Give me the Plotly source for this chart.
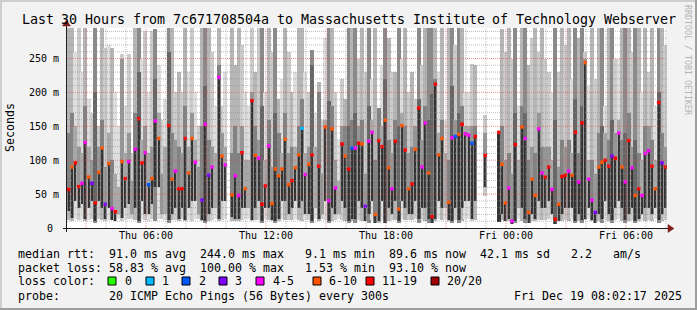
import re
import plotly.graph_objects as go
import pandas as pd

N = None
# ---- data: 10-minute slots starting Thu 2025-12-18 02:03 (values in ms) ----
median_ms = [57, 90, 96, 61, 66, 126, 75, 66, 37, 82,
             118, 35, 95, 29, 24, N, 98, 73, 98, N,
             116, 161, 96, 111, 64, 73, 158, 132, N, N,
             151, 72, 84, 58, 58, 132, 81, 132, 97, N,
             41, 153, 78, 90, N, 222, 106, 93, N, 49,
             77, 48, 111, 58, N, 188, 107, 103, 35, 62,
             121, 36, 87, 77, 87, 131, 64, 70, 89, 108,
             147, 79, 94, 108, N, 91, N, 149, 40, 146,
             59, N, 124, 106, 87, 118, 118, 125, 124, 32,
             128, 141, 20, 129, 120, 159, 89, 58, 128, 28,
             151, 115, 58, 65, 116, 177, 90, 155, 81, 17,
             212, 108, 132, N, 38, 133, 135, 138, 153, 139,
             137, 125, 135, N, N, 107, N, N, N, 141,
             94, 37, 59, 10, 123, N, 149, 132, 23, 72,
             48, 146, 81, 75, 90, 57, 13, 35, 76, 78,
             84, 78, 141, 68, 155, 244, 72, 41, 23, 90,
             97, 100, 91, 106, 103, 140, 90, 68, 129, 89,
             48, 58, 48, 110, 114, 91, 58, 185, 96, 90]

loss_bucket = [6, 5, 6, 6, 4, 4, 5, 3, 6, 5,
               5, 3, 5, 4, 6, 7, 5, 6, 4, 7,
               4, 6, 6, 4, 2, 5, 4, 5, 7, 7,
               6, 5, 4, 6, 6, 6, 5, 5, 4, 7,
               3, 4, 3, 4, 7, 4, 5, 4, 7, 5,
               4, 4, 6, 5, 7, 6, 5, 4, 6, 6,
               4, 5, 5, 5, 5, 5, 5, 6, 5, 5,
               1, 4, 5, 6, 7, 6, 7, 5, 4, 5,
               4, 7, 6, 5, 6, 2, 4, 6, 5, 3,
               4, 4, 5, 6, 6, 5, 5, 4, 6, 5,
               5, 6, 5, 6, 5, 6, 4, 4, 5, 6,
               6, 5, 5, 7, 5, 4, 2, 5, 6, 4,
               4, 2, 6, 7, 7, 6, 7, 7, 7, 6,
               5, 5, 4, 4, 6, 7, 5, 4, 5, 5,
               5, 4, 4, 6, 6, 4, 6, 5, 6, 6,
               4, 5, 6, 4, 6, 5, 4, 4, 3, 5,
               5, 6, 6, 3, 6, 4, 5, 4, 6, 4,
               5, 6, 4, 4, 4, 6, 5, 6, 3, 6]

smoke_top = [300, 300, 260, 300, 230, 300, 190, 170, 300, 150,
             300, 266, 270, 266, 200, 150, 257, 180, 257, 110,
             300, 300, 250, 290, 200, 290, 294, 240, 160, 190,
             300, 300, 200, 230, 200, 300, 230, 300, 200, 150,
             300, 300, 300, 260, 180, 300, 180, 230, N, 300,
             240, 300, 270, 200, 180, 300, 230, 300, 300, 200,
             300, 260, 300, 190, 220, 300, 260, 200, 230, 300,
             300, 230, 200, 262, 170, 215, 160, 280, 300, 300,
             200, 130, 220, 190, 300, 300, 300, 250, 300, 230,
             300, 220, 300, 177, 240, 300, 280, 230, 230, 300,
             250, 300, 200, 230, 190, 300, 240, 300, 300, 300,
             300, 230, 300, 160, 300, 300, 270, 300, 300, 200,
             200, 242, 240, N, N, 167, N, N, N, 141,
             294, 260, 300, 250, 300, 180, 300, 300, 240, 280,
             300, 260, 300, 250, 230, 200, 300, 230, 300, 270,
             300, 220, 300, 280, 300, 260, 210, 300, 220, 300,
             300, 180, 300, 300, 250, 250, 300, 300, 300, 260,
             300, 300, 200, 300, 230, 300, 180, 300, 300, 270]

smoke_bot = [12, 10, 14, 12, 14, 10, 12, 14, 8, 14,
             12, 10, 12, 12, 10, 14, 10, 12, 14, 14,
             12, 8, 14, 12, 10, 14, 10, 14, 14, 12,
             8, 12, 12, 10, 14, 10, 12, 10, 14, 14,
             10, 8, 10, 12, 14, 10, 12, 14, N, 10,
             10, 10, 12, 14, 14, 10, 12, 12, 8, 14,
             12, 10, 8, 10, 14, 12, 12, 12, 14, 12,
             10, 12, 12, 8, 14, 10, 14, 12, 8, 10,
             12, 14, 12, 10, 8, 10, 8, 12, 10, 10,
             8, 12, 8, 8, 12, 8, 10, 12, 12, 8,
             14, 12, 12, 12, 14, 8, 12, 10, 8, 8,
             10, 14, 12, 14, 10, 8, 12, 8, 10, 14,
             14, 10, 12, N, N, 47, N, N, N, 9,
             12, 10, 10, 6, 8, 14, 10, 8, 8, 10,
             10, 12, 12, 12, 14, 12, 6, 10, 10, 12,
             10, 14, 8, 10, 8, 12, 14, 10, 8, 10,
             8, 12, 10, 8, 12, 14, 10, 8, 10, 12,
             8, 10, 12, 10, 12, 10, 14, 8, 10, 12]

smoke_shade = [2, 2, 0, 1, 0, 2, 0, 1, 3, 1,
               2, 1, 0, 2, 0, 0, 1, 0, 1, 1,
               2, 3, 0, 1, 0, 1, 3, 0, 1, 0,
               3, 2, 1, 2, 1, 2, 0, 1, 0, 1,
               2, 3, 2, 1, 0, 2, 1, 0, 0, 2,
               2, 2, 1, 0, 0, 1, 2, 1, 3, 0,
               2, 1, 3, 2, 0, 2, 1, 2, 0, 2,
               2, 0, 1, 3, 0, 2, 1, 0, 3, 2,
               1, 0, 1, 2, 3, 2, 3, 1, 2, 1,
               3, 0, 2, 2, 0, 3, 2, 1, 2, 3,
               0, 2, 1, 2, 1, 3, 1, 2, 3, 3,
               2, 0, 2, 0, 2, 3, 1, 3, 2, 0,
               0, 1, 2, 0, 0, 1, 0, 0, 0, 4,
               2, 1, 2, 1, 3, 0, 2, 3, 2, 1,
               2, 1, 2, 1, 1, 0, 3, 1, 2, 1,
               2, 0, 3, 2, 3, 1, 0, 2, 1, 2,
               3, 0, 2, 3, 1, 0, 2, 3, 2, 1,
               3, 2, 0, 2, 1, 2, 0, 3, 2, 1]

inner_top = [140, 170, 150, 120, 110, 180, 120, 100, 200, 120,
             160, 90, 140, 100, 80, 60, 250, 110, 140, 70,
             170, 230, 130, 150, 110, 120, 220, 170, 80, 120,
             260, 140, 130, 120, 110, 180, 120, 170, 130, 90,
             150, 210, 130, 120, 110, 240, 140, 120, N, 110,
             150, 110, 150, 100, 100, 200, 150, 130, 180, 100,
             160, 90, 170, 140, 110, 170, 110, 120, 120, 150,
             190, 110, 120, 240, 120, 200, 80, 160, 188, 180,
             100, 70, 150, 150, 150, 160, 170, 150, 160, 80,
             180, 160, 100, 177, 150, 220, 130, 110, 160, 150,
             170, 150, 110, 120, 150, 190, 130, 180, 160, 198,
             220, 140, 160, 110, 100, 210, 160, 170, 180, 150,
             150, 150, 150, N, N, 140, N, N, N, 141,
             150, 100, 110, 80, 170, 100, 180, 170, 100, 120,
             110, 170, 120, 120, 120, 100, 160, 90, 130, 120,
             130, 110, 190, 110, 180, 250, 100, 100, 80, 140,
             150, 140, 130, 160, 140, 160, 130, 140, 170, 120,
             130, 110, 100, 150, 150, 130, 100, 200, 140, 120]

core_low = [25, 15, 40, 30, 35, 14, 30, 40, 10, 40,
            30, 14, 30, 12, 10, 20, 15, 30, 35, 20,
            30, 10, 40, 20, 20, 35, 60, 60, 20, 20,
            12, 20, 30, 14, 30, 12, 30, 40, 40, 20,
            12, 10, 20, 30, 30, 14, 40, 40, N, 16,
            14, 14, 30, 30, 30, 12, 30, 40, 10, 30,
            30, 12, 10, 14, 40, 40, 20, 30, 40, 30,
            40, 20, 20, 10, 30, 14, 20, 40, 10, 30,
            20, 20, 40, 30, 10, 14, 14, 40, 30, 10,
            20, 40, 8, 10, 40, 8, 30, 20, 40, 10,
            40, 30, 20, 20, 40, 14, 30, 30, 14, 8,
            14, 40, 30, 30, 12, 10, 30, 12, 30, 40,
            40, 14, 40, N, N, 60, N, N, N, 9,
            20, 10, 14, 6, 10, 30, 30, 14, 8, 20,
            14, 40, 30, 30, 40, 20, 6, 10, 20, 30,
            30, 30, 10, 20, 12, 14, 30, 12, 8, 20,
            14, 40, 20, 12, 30, 40, 30, 12, 20, 30,
            10, 14, 20, 30, 30, 20, 30, 12, 20, 30]

y_tick_vals = [0, 50, 100, 150, 200, 250]
y_tick_text = ["0\u00a0", "50 m", "100 m", "150 m", "200 m", "250 m"]
loss_labels = ["0", "1", "2", "3", "4-5", "6-10", "11-19", "20/20"]
loss_colors = ["#26ff00", "#00b8ff", "#0059ff", "#7e00ff", "#ff00ff", "#ff5500", "#ff0000", "#a10000"]

title_text = "Last 30 Hours from 7c671708504a to Massachusetts Institute of Technology Webserver"
legend_rtt = "median rtt:  91.0 ms avg  244.0 ms max   9.1 ms min  89.6 ms now  42.1 ms sd   2.2   am/s"
legend_loss = "packet loss: 58.83 % avg  100.00 % max   1.53 % min  93.10 % now"
legend_probe = "probe:       20 ICMP Echo Pings (56 Bytes) every 300s"
stamp = "Fri Dec 19 08:02:17 2025"

# ---- geometry helpers ----
W, H = 697, 310
PL, PR, PT, PB = 67, 667, 28, 228


def px(x):
    return (x - PL) / (PR - PL)


def py(y):
    return (PB - y) / (PB - PT)


start = pd.Timestamp("2025-12-18 02:03:00")
end = start + pd.Timedelta(hours=30)
step = pd.Timedelta(minutes=10)
times = [start + step * k + step / 2 for k in range(len(median_ms))]

outer_cols = ["#dedede", "#cbcbcb", "#b6b6b6", "#8a8a8a", "#3a3a3a"]
inner_cols = ["#a8a8a8", "#969696", "#828282", "#666666", "#333333"]

ob, oh, oc, ib, ih, ic, cb, ch = [], [], [], [], [], [], [], []
for k in range(len(times)):
    t, b, s = smoke_top[k], smoke_bot[k], smoke_shade[k]
    if t is None:
        ob.append(None); oh.append(None); oc.append("#ffffff")
        ib.append(None); ih.append(None); ic.append("#ffffff")
    else:
        ob.append(b); oh.append(t - b); oc.append(outer_cols[s])
        ib.append(core_low[k]); ih.append(inner_top[k] - core_low[k]); ic.append(inner_cols[s])
    m = median_ms[k]
    if m is None or core_low[k] is None:
        cb.append(None); ch.append(None)
    else:
        cb.append(core_low[k]); ch.append(m - core_low[k])

slot_ms = 600000
bar_w = slot_ms * 1.2   # slight overlap removes anti-aliasing seams
fig = go.Figure()
fig.add_trace(go.Bar(x=times, y=oh, base=ob, width=bar_w, marker=dict(color=oc, line=dict(width=0)), hoverinfo="skip"))
fig.add_trace(go.Bar(x=times, y=ih, base=ib, width=bar_w, marker=dict(color=ic, line=dict(width=0)), hoverinfo="skip"))
fig.add_trace(go.Bar(x=times, y=ch, base=cb, width=slot_ms * 0.3, marker=dict(color="#333333", line=dict(width=0)), hoverinfo="skip"))
fig.add_trace(go.Scatter(x=times, y=median_ms, mode="markers",
                         marker=dict(symbol="square", size=3.5, color=[loss_colors[i] for i in loss_bucket], line=dict(width=0))))

shapes = []
# grid over the smoke (rrdtool style: dotted)
h = pd.Timestamp("2025-12-18 03:00:00")
while h < end:
    major = h.hour % 3 == 0
    shapes.append(dict(type="line", xref="x", yref="paper", x0=h, x1=h, y0=0, y1=1, layer="above",
                       line=dict(color="rgba(222,79,79,0.6)" if major else "rgba(143,143,143,0.6)", width=1, dash="1px,1px")))
    h += pd.Timedelta(hours=1)
for v in range(10, 295, 10):
    major = v % 50 == 0
    shapes.append(dict(type="line", xref="paper", yref="y", x0=0, x1=1, y0=v, y1=v, layer="above",
                       line=dict(color="rgba(222,79,79,0.6)" if major else "rgba(143,143,143,0.6)", width=1, dash="1px,1px")))

# axes with arrows
shapes.append(dict(type="line", xref="paper", yref="paper", x0=px(63), x1=px(670), y0=py(228.5), y1=py(228.5),
                   line=dict(color="#1f1f1f", width=1)))
shapes.append(dict(type="line", xref="paper", yref="paper", x0=px(66.5), x1=px(66.5), y0=py(232), y1=py(24),
                   line=dict(color="#1f1f1f", width=1)))
shapes.append(dict(type="path", xref="paper", yref="paper",
                   path=f"M {px(668)} {py(224.5)} L {px(674)} {py(228.5)} L {px(668)} {py(232.5)} Z",
                   fillcolor="#801f1f", line=dict(color="#801f1f", width=0.5)))
shapes.append(dict(type="path", xref="paper", yref="paper",
                   path=f"M {px(62.5)} {py(26)} L {px(66.5)} {py(20)} L {px(70.5)} {py(26)} Z",
                   fillcolor="#801f1f", line=dict(color="#801f1f", width=0.5)))

# 3D frame
shapes.append(dict(type="line", xref="paper", yref="paper", x0=px(0), x1=px(697), y0=py(1), y1=py(1), line=dict(color="#cecece", width=2)))
shapes.append(dict(type="line", xref="paper", yref="paper", x0=px(1), x1=px(1), y0=py(0), y1=py(310), line=dict(color="#cecece", width=2)))
shapes.append(dict(type="line", xref="paper", yref="paper", x0=px(0), x1=px(697), y0=py(309), y1=py(309), line=dict(color="#9e9e9e", width=2)))
shapes.append(dict(type="line", xref="paper", yref="paper", x0=px(696), x1=px(696), y0=py(0), y1=py(310), line=dict(color="#9e9e9e", width=2)))

# loss colour boxes
box_x = [108, 146, 182, 219, 256, 313, 366, 431]
lab_x = [123, 160, 197, 233, 271, 327, 380, 445]
for bx, col in zip(box_x, loss_colors):
    shapes.append(dict(type="rect", xref="paper", yref="paper", x0=px(bx), x1=px(bx + 8), y0=py(285), y1=py(277),
                       fillcolor=col, line=dict(color="#000000", width=1)))

MONO = "DejaVu Sans Mono"
ann = []


def txt(s, x, y, size, xanchor="left", color="#000000", angle=0):
    ann.append(dict(text=s, x=px(x), y=py(y), xref="paper", yref="paper",
                    xanchor=xanchor, yanchor="middle", showarrow=False, textangle=angle,
                    font=dict(family=MONO, size=size, color=color)))


def words(s, x0, y, size, cw):
    # place each word on the monospace character grid
    for mt in re.finditer(r"\S+", s):
        txt(mt.group(0), x0 + mt.start() * cw, y, size)


words(title_text, 19.5, 19.5, 13.3, 7.98)
words(legend_rtt, 15.5, 254, 11.6, 7.0)
words(legend_loss, 15.5, 268, 11.6, 7.0)
words("loss color:", 15.5, 281, 11.6, 7.0)
for lx, lab in zip(lab_x, loss_labels):
    txt(lab, lx, 281, 11.6)
words(legend_probe, 15.5, 296, 11.6, 7.0)
words(stamp, 511.5, 296, 11.6, 7.0)
txt("Seconds", 10, 128, 11.6, xanchor="center", angle=-90)
txt("RRDTOOL / TOBI OETIKER", 688, 60, 8.3, xanchor="center", color="#b4b4b4", angle=90)

fig.update_layout(width=W, height=H, margin=dict(l=PL, r=W - PR, t=PT, b=H - PB),
                  paper_bgcolor="#f2f2f2", plot_bgcolor="#ffffff", barmode="overlay", bargap=0,
                  showlegend=False, shapes=shapes, annotations=ann,
                  font=dict(family=MONO, size=10, color="#000000"))
fig.update_xaxes(type="date", range=[start, end], tickformat="%a %H:%M", dtick=6 * 3600 * 1000,
                 tick0="2025-12-18 00:00:00", showgrid=False, zeroline=False, showline=False,
                 ticks="", tickfont=dict(family=MONO, size=10), fixedrange=True)
fig.update_yaxes(range=[0, 295], tickvals=y_tick_vals, ticktext=y_tick_text, showgrid=False, zeroline=False,
                 showline=False, ticks="", ticklabelstandoff=7, tickfont=dict(family=MONO, size=10), fixedrange=True)

fig.write_html("out.html")
